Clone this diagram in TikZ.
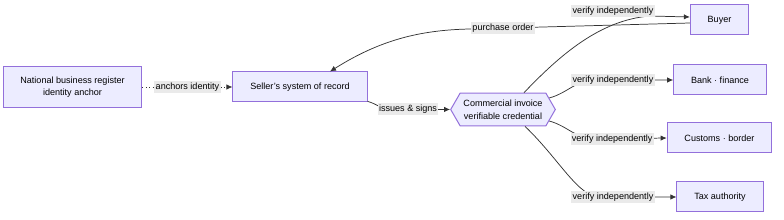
\documentclass[tikz,border=0pt]{standalone}
\usepackage{fontspec}
\setmainfont{Liberation Sans}
\usetikzlibrary{arrows.meta,positioning,shapes.symbols}
\definecolor{boxline}{HTML}{9370DB}
\definecolor{boxfill}{HTML}{ECECFF}
\definecolor{linegray}{HTML}{333333}
\definecolor{labelgray}{HTML}{EAEAEA}
\newcommand{\diagfont}{\fontsize{6.8}{9.5}\selectfont}
\begin{document}
\begin{tikzpicture}[x=0.75pt,y=-0.75pt,>=Latex,
entity box/.style={draw=boxline,fill=boxfill,line width=0.75pt,align=center,inner xsep=13pt,inner ysep=7.5pt,minimum height=22.5pt,font=\diagfont},
credential/.style={entity box,shape=signal,signal to=east and west,signal pointer angle=120,inner xsep=2.5pt,inner ysep=5pt},
flow/.style={-{Latex[length=4.5pt,width=4pt]},draw=linegray,line width=0.55pt},
edge label/.style={fill=labelgray,inner xsep=1pt,inner ysep=1.5pt,font=\diagfont}]
\useasboundingbox (0,0) rectangle (784,220);
\node[entity box] (registry) at (72.5,87) {National business register\\identity anchor};
\node[entity box] (seller) at (300,87) {Seller's system of record};
\node[credential] (invoice) at (503,109.5) {Commercial invoice\\verifiable credential};
\node[entity box] (buyer) at (719.5,20) {Buyer};
\node[entity box] (bank) at (720,80) {Bank · finance};
\node[entity box] (customs) at (719.5,138) {Customs · border};
\node[entity box] (tax) at (720,197) {Tax authority};
\draw[flow,dotted] (registry) -- node[edge label] {anchors identity} (seller);
\draw[flow] (seller.-12) to[out=-15,in=180] (390,109) -- node[pos=0.3,edge label] {issues \& signs} (invoice.west);
\draw[flow] ([yshift=-2.25pt]buyer.west) -- node[pos=0.85,edge label] {purchase order} (470,29) .. controls (420,30) and (380,40) .. ([xshift=22.5pt]seller.north);
\draw[flow] ([xshift=15.75pt]invoice.north) .. controls (560,55) and (600,20) .. (650,16) -- ([yshift=2.25pt]buyer.west);
\node[edge label] (verify buyer) at (613,11) {verify independently};
\draw[flow] (invoice.14) to[out=15,in=180] (595,80) -- node[pos=0.23,edge label] {verify independently} (bank.west);
\draw[flow] (invoice.-14) to[out=-15,in=180] (595,139) -- node[pos=0.24,edge label] {verify independently} (customs.west);
\draw[flow] ([xshift=16.5pt]invoice.south) .. controls (560,160) and (578,197) .. (600,197) -- node[pos=0.17,edge label] {verify independently} (tax.west);
\end{tikzpicture}
\end{document}
